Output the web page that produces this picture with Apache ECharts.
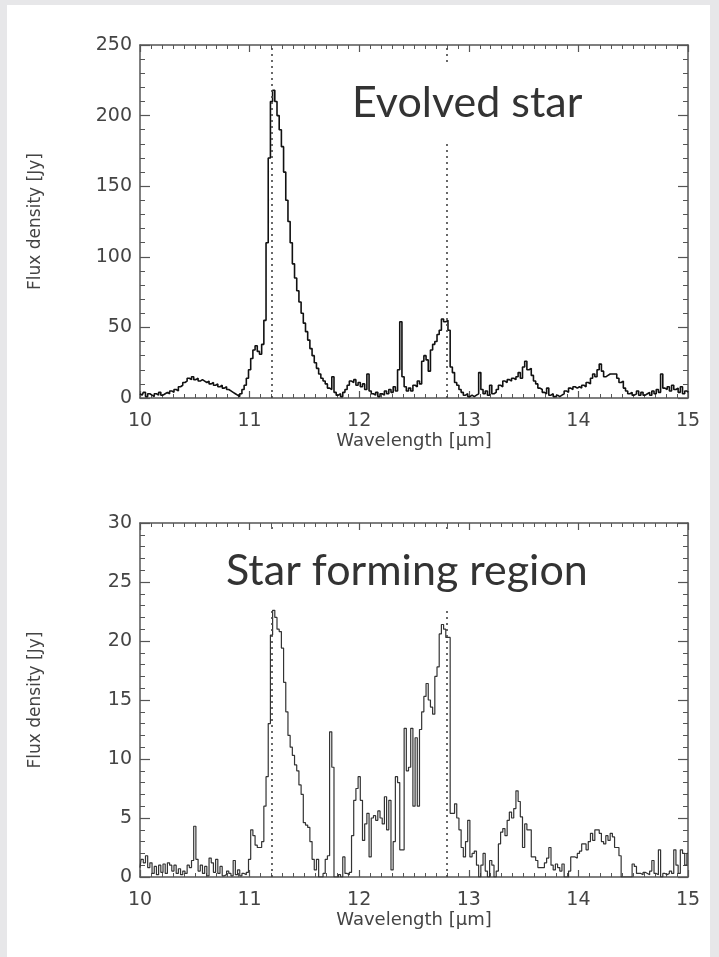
<!DOCTYPE html>
<html><head><meta charset="utf-8">
<script src="https://cdn.jsdelivr.net/npm/echarts@6/dist/echarts.min.js"></script>
<style>
html,body{margin:0;padding:0;background:#e7e7e9;width:719px;height:957px;overflow:hidden;}
#panel{position:absolute;left:7px;top:5px;width:703px;height:952px;background:#fff;}
#chart{position:absolute;left:0;top:0;width:719px;height:957px;}
</style></head>
<body><div id="panel"></div><div id="chart"></div>
<script>
// Wavelength grid [micron]
const wavelength = [
10.00,10.02,10.04,10.06,10.08,10.10,10.12,10.14,10.16,10.18,
10.20,10.22,10.24,10.26,10.28,10.30,10.32,10.34,10.36,10.38,
10.40,10.42,10.44,10.46,10.48,10.50,10.52,10.54,10.56,10.58,
10.60,10.62,10.64,10.66,10.68,10.70,10.72,10.74,10.76,10.78,
10.80,10.82,10.84,10.86,10.88,10.90,10.92,10.94,10.96,10.98,
11.00,11.02,11.04,11.06,11.08,11.10,11.12,11.14,11.16,11.18,
11.20,11.22,11.24,11.26,11.28,11.30,11.32,11.34,11.36,11.38,
11.40,11.42,11.44,11.46,11.48,11.50,11.52,11.54,11.56,11.58,
11.60,11.62,11.64,11.66,11.68,11.70,11.72,11.74,11.76,11.78,
11.80,11.82,11.84,11.86,11.88,11.90,11.92,11.94,11.96,11.98,
12.00,12.02,12.04,12.06,12.08,12.10,12.12,12.14,12.16,12.18,
12.20,12.22,12.24,12.26,12.28,12.30,12.32,12.34,12.36,12.38,
12.40,12.42,12.44,12.46,12.48,12.50,12.52,12.54,12.56,12.58,
12.60,12.62,12.64,12.66,12.68,12.70,12.72,12.74,12.76,12.78,
12.80,12.82,12.84,12.86,12.88,12.90,12.92,12.94,12.96,12.98,
13.00,13.02,13.04,13.06,13.08,13.10,13.12,13.14,13.16,13.18,
13.20,13.22,13.24,13.26,13.28,13.30,13.32,13.34,13.36,13.38,
13.40,13.42,13.44,13.46,13.48,13.50,13.52,13.54,13.56,13.58,
13.60,13.62,13.64,13.66,13.68,13.70,13.72,13.74,13.76,13.78,
13.80,13.82,13.84,13.86,13.88,13.90,13.92,13.94,13.96,13.98,
14.00,14.02,14.04,14.06,14.08,14.10,14.12,14.14,14.16,14.18,
14.20,14.22,14.24,14.26,14.28,14.30,14.32,14.34,14.36,14.38,
14.40,14.42,14.44,14.46,14.48,14.50,14.52,14.54,14.56,14.58,
14.60,14.62,14.64,14.66,14.68,14.70,14.72,14.74,14.76,14.78,
14.80,14.82,14.84,14.86,14.88,14.90,14.92,14.94,14.96,14.98,15.00
];

// Evolved star flux density [Jy]
const fluxEvolved = [
3,2,4,1,3,2,1,3,2,4,
2,3,4,3,5,4,6,5,8,9,
11,12,14,13,15,13,14,12,13,12,
11,12,10,11,9,10,8,9,7,8,
6,5,4,3,2,1,3,6,9,14,
20,28,34,37,33,31,38,55,110,170,
210,218,210,200,190,178,160,140,125,110,
95,85,76,68,60,53,47,41,35,30,
25,21,17,14,12,10,7,6,15,4,
2,3,1,4,6,9,12,11,13,9,
11,8,10,6,17,5,3,2,4,1,
3,2,5,3,6,4,8,5,20,54,
15,8,5,7,5,9,8,12,10,26,
30,27,19,34,38,40,45,48,56,54,
55,48,22,18,11,9,6,4,2,3,
1,2,1,2,3,18,6,3,5,2,
9,3,4,6,9,8,12,11,13,12,
14,13,15,18,14,22,26,20,21,16,
12,10,7,6,4,3,7,2,3,1,
2,1,2,3,5,4,7,6,8,7,
8,7,9,8,11,10,14,17,15,20,
24,19,15,16,17,17,17,17,14,11,
12,7,5,3,4,2,3,5,2,4,
2,3,4,2,5,3,6,4,17,7,
6,8,5,9,6,7,4,8,3,5,4
];

// Star forming region flux density [Jy]
const fluxStarForming = [
0.8,1.5,1.2,1.8,0.8,1.2,0.3,0.9,0.2,1.0,
0.4,1.1,0.3,1.2,1.0,0.5,1.0,0.3,0.7,0.2,
0.5,0.3,1.0,0.8,1.4,4.3,1.5,0.5,1.0,0.3,
0.9,0.1,1.6,1.2,0.4,1.5,0.3,0.9,0.1,0.2,
0.5,0.3,0.1,1.4,0.2,0.6,0.1,0.3,0.2,0.4,
1.5,4.0,3.5,2.7,2.5,2.5,3.0,6.0,8.5,13.0,
20.5,22.6,22.0,21.0,20.8,19.4,16.5,14.0,12.0,11.0,
10.3,9.5,9.0,7.8,7.0,4.6,4.4,4.2,3.0,1.5,
0.6,1.5,0.0,0.0,0.3,1.5,1.8,12.3,9.3,0.0,
0.0,0.2,0.0,1.7,0.3,0.2,0.4,3.5,6.5,7.5,
8.5,6.5,3.1,4.5,5.4,1.7,5.0,5.2,4.8,5.6,
5.0,4.5,6.8,4.0,6.5,0.6,3.0,8.5,8.0,2.3,
2.3,12.6,9.0,9.3,12.6,6.0,11.8,6.0,12.5,14.0,
15.3,16.4,15.0,14.4,13.8,17.0,17.8,20.6,21.4,21.0,
20.3,20.3,5.4,5.4,6.2,5.0,4.0,2.5,1.7,3.0,
4.8,1.7,2.0,2.2,1.0,0.0,1.0,2.0,0.5,0.0,
1.4,1.0,0.0,0.5,2.8,3.8,4.1,3.5,4.8,5.5,
5.0,5.8,7.3,6.4,5.1,2.5,4.5,4.0,4.0,1.7,
1.7,1.4,0.8,0.8,0.8,1.2,1.6,2.5,1.0,0.6,
1.1,0.8,0.5,1.1,0.0,0.0,0.5,1.7,1.7,1.6,
2.0,2.2,2.8,2.8,2.3,3.0,3.7,3.1,4.0,4.0,
3.7,3.0,2.8,3.5,3.1,3.7,3.4,2.5,2.5,1.8,
0.0,0.0,0.0,0.0,0.0,1.1,0.9,0.3,0.3,0.2,
0.4,0.3,0.2,0.5,1.4,0.3,0.2,2.3,0.0,0.3,
0.2,0.3,0.5,0.3,2.3,1.0,0.3,2.3,2.0,1.0,2.0
];

const featureLines = [11.2, 12.8];      // dotted reference wavelengths
const panelTitles = ['Evolved star', 'Star forming region'];
const xRange = [10, 15];
const yRangeTop = [0, 250, 50];
const yRangeBottom = [0, 30, 5];
const xLabel = 'Wavelength [μm]';
const yLabel = 'Flux density [Jy]';

const AX = '#555';
const TXT = '#444';
const tickFont = 'DejaVu Sans';

function xAxisPair(gi) {
  const common = {
    type: 'value', gridIndex: gi, min: xRange[0], max: xRange[1], interval: 1,
    axisLine: {show: true, onZero: false, lineStyle: {color: AX, width: 1.5}},
    axisTick: {show: true, inside: true, length: 7, lineStyle: {color: AX, width: 1.2}},
    minorTick: {show: true, splitNumber: 10, length: 4, lineStyle: {color: AX, width: 1}},
    splitLine: {show: false}
  };
  return [
    Object.assign({}, common, {
      position: 'bottom',
      axisLabel: {show: true, margin: 14, color: TXT, fontFamily: tickFont, fontSize: 19},
      name: xLabel, nameLocation: 'middle', nameGap: 32,
      nameTextStyle: {color: TXT, fontFamily: tickFont, fontSize: 18}
    }),
    Object.assign({}, common, {position: 'top', axisLabel: {show: false}})
  ];
}
function yAxisPair(gi, r) {
  const common = {
    type: 'value', gridIndex: gi, min: r[0], max: r[1], interval: r[2],
    axisLine: {show: true, onZero: false, lineStyle: {color: AX, width: 1.5}},
    axisTick: {show: true, inside: true, length: 10, lineStyle: {color: AX, width: 1.2}},
    minorTick: {show: true, splitNumber: 5, length: 5, lineStyle: {color: AX, width: 1}},
    splitLine: {show: false}
  };
  return [
    Object.assign({}, common, {
      position: 'left',
      axisLabel: {show: true, margin: 8, color: TXT, fontFamily: tickFont, fontSize: 19},
      name: yLabel, nameLocation: 'middle', nameGap: 96, nameRotate: 90,
      nameTextStyle: {color: TXT, fontFamily: tickFont, fontSize: 17}
    }),
    Object.assign({}, common, {position: 'right', axisLabel: {show: false}})
  ];
}

function specSeries(values, xi, yi, color, width) {
  return {
    type: 'line', step: 'middle', xAxisIndex: xi, yAxisIndex: yi,
    showSymbol: false, symbol: 'none', silent: true, clip: true,
    lineStyle: {color: color, width: width},
    data: wavelength.map((w, i) => [w, values[i]]),
    markLine: {
      silent: true, symbol: 'none', label: {show: false},
      lineStyle: {color: '#444', width: 1.6, type: [2, 4]},
      data: featureLines.map(v => ({xAxis: v}))
    },
    z: 3
  };
}

const chart = echarts.init(document.getElementById('chart'), null, {renderer: 'canvas'});
chart.setOption({
  animation: false,
  backgroundColor: 'transparent',
  grid: [
    {left: 140, top: 45, width: 548, height: 353},
    {left: 140, top: 523, width: 548, height: 354}
  ],
  xAxis: [...xAxisPair(0), ...xAxisPair(1)],
  yAxis: [...yAxisPair(0, yRangeTop), ...yAxisPair(1, yRangeBottom)],
  series: [
    specSeries(fluxEvolved, 0, 0, '#111', 1.6),
    specSeries(fluxStarForming, 2, 2, '#333', 1.2)
  ],
  graphic: [
    {type: 'rect', z: 50, shape: {x: 345, y: 63, width: 245, height: 80}, style: {fill: '#fff'}},
    {type: 'text', z: 51, x: 352, y: 82,
      style: {text: panelTitles[0], font: '43px Lato', fill: '#333'}},
    {type: 'rect', z: 50, shape: {x: 220, y: 530, width: 385, height: 77}, style: {fill: '#fff'}},
    {type: 'text', z: 51, x: 226, y: 550,
      style: {text: panelTitles[1], font: '43px Lato', fill: '#333'}}
  ]
});
</script>
</body></html>
